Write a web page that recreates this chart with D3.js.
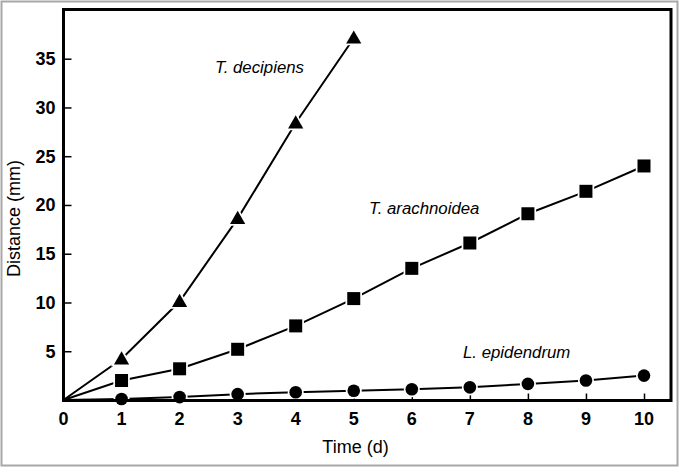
<!DOCTYPE html>
<html><head><meta charset="utf-8">
<script src="https://cdn.jsdelivr.net/npm/d3@7"></script>
<style>
html,body{margin:0;padding:0;background:#fff;}
svg{display:block;font-family:"Liberation Sans",Arial,sans-serif;}
</style></head>
<body><svg id="c" width="681" height="468"></svg>
<script>
const days = [0,1,2,3,4,5,6,7,8,9,10];
const decipiens = [0,4.2,10.1,18.6,28.4,37.1];
const arachnoidea = [0,2.0,3.2,5.2,7.6,10.4,13.5,16.1,19.1,21.4,24.0];
const epidendrum = [0,0.1,0.3,0.6,0.8,0.95,1.1,1.3,1.65,2.0,2.5];
const xTicks = [0,1,2,3,4,5,6,7,8,9,10];
const yTicks = [5,10,15,20,25,30,35];
const seriesLabels = ["T. decipiens","T. arachnoidea","L. epidendrum"];

const svg = d3.select("#c");
const L=63.5, R=671, T=9.5, B=400.5;
const x = d3.scaleLinear().domain([0,10]).range([63.5,644]);
const y = d3.scaleLinear().domain([0,35]).range([400,58.7]);

// outer gray frame
svg.append("rect").attr("x",1.5).attr("y",1.5).attr("width",676).attr("height",464)
  .attr("fill","#fff").attr("stroke","#a8a8a8").attr("stroke-width",2);

// y ticks (inward)
const yAxis = d3.axisRight(y).tickValues(yTicks).tickSize(8).tickFormat("");
svg.append("g").attr("transform",`translate(${L},0)`).call(yAxis)
  .call(g=>g.select(".domain").remove())
  .call(g=>g.selectAll("line").attr("stroke","#000").attr("stroke-width",1.5));
svg.append("g").selectAll("text").data(yTicks).join("text")
  .attr("x",55.5).attr("y",d=>y(d)).attr("dy","0.36em").attr("text-anchor","end")
  .attr("font-size",18).attr("font-weight","bold").text(d=>d);

// x ticks (inward, upward)
const xAxis = d3.axisTop(x).tickValues(xTicks.filter(d=>d>0)).tickSize(7).tickFormat("");
svg.append("g").attr("transform",`translate(0,${B})`).call(xAxis)
  .call(g=>g.select(".domain").remove())
  .call(g=>g.selectAll("line").attr("stroke","#000").attr("stroke-width",1.5));
svg.append("g").selectAll("text").data(xTicks).join("text")
  .attr("x",d=>x(d)).attr("y",424.5).attr("text-anchor","middle")
  .attr("font-size",18).attr("font-weight","bold").text(d=>d);

// axis titles
svg.append("text").attr("x",355.5).attr("y",452.5).attr("text-anchor","middle")
  .attr("font-size",18).text("Time (d)");
svg.append("text").attr("transform","translate(19.5,218.5) rotate(-90)").attr("text-anchor","middle")
  .attr("font-size",18).text("Distance (mm)");

const line = d3.line().x((d,i)=>x(days[i])).y(d=>y(d));
const series = [
  {vals:decipiens, sym:d3.symbolTriangle, size:100, dy:1},
  {vals:arachnoidea, sym:d3.symbolSquare, size:169, dy:0},
  {vals:epidendrum, sym:d3.symbolCircle, size:125, dy:0}
];
series.forEach(s=>{
  svg.append("path").datum(s.vals).attr("d",line).attr("fill","none")
    .attr("stroke","#000").attr("stroke-width",2);
});
series.forEach(s=>{
  svg.append("g").selectAll("path").data(s.vals.slice(1)).join("path")
    .attr("transform",(d,i)=>`translate(${x(days[i+1])},${y(d)+s.dy})`)
    .attr("d",d3.symbol().type(s.sym).size(s.size))
    .attr("fill","#000").attr("stroke","#fff").attr("stroke-width",3.5)
    .attr("paint-order","stroke");
});

// plot frame
svg.append("rect").attr("x",L).attr("y",T).attr("width",R-L).attr("height",B-T)
  .attr("fill","none").attr("stroke","#000").attr("stroke-width",3);

// series labels
const labelPos = [[215,73],[369,214],[463,358]];
svg.append("g").selectAll("text").data(seriesLabels).join("text")
  .attr("x",(d,i)=>labelPos[i][0]).attr("y",(d,i)=>labelPos[i][1])
  .attr("font-size",16.8).attr("font-style","italic").text(d=>d);
</script></body></html>
